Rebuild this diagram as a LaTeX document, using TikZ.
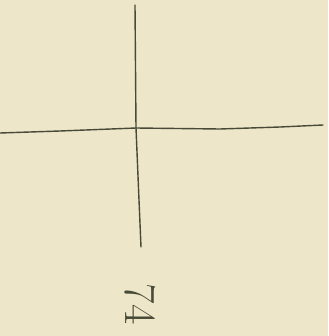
\documentclass[tikz,border=0pt]{standalone}
\definecolor{paper}{RGB}{238,230,201}
\definecolor{pencil}{RGB}{72,74,56}
\begin{document}
\begin{tikzpicture}[x=0.03cm,y=-0.03cm]
\fill[paper] (0,0) rectangle (328,336);
\useasboundingbox (0,0) rectangle (328,336);

\draw[pencil,line width=1.2pt,line cap=round] (0,133) -- (60,131) -- (136,128) -- (220,129) -- (280,127) -- (323,125);
\draw[pencil,line width=1.2pt,line cap=round] (135,5) -- (136,128) -- (139,200) -- (141,247);

\node[pencil,rotate=-90,font=\fontsize{38}{38}\selectfont] at (140,304) {74};
\end{tikzpicture}
\end{document}
